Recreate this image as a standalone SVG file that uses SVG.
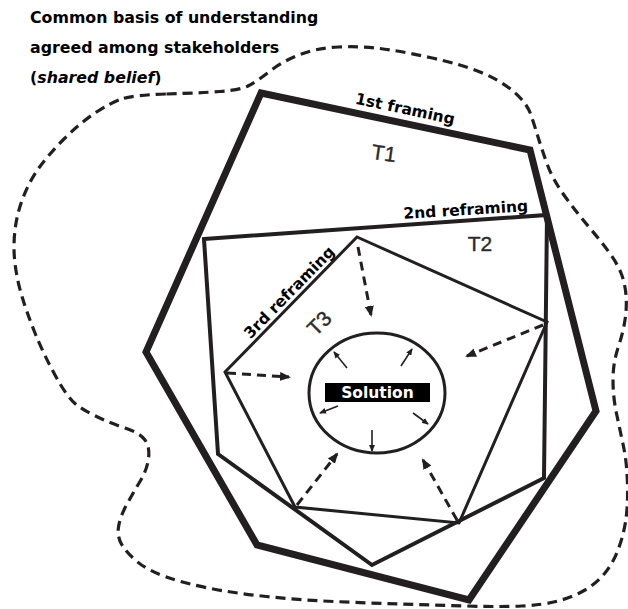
<svg xmlns="http://www.w3.org/2000/svg" width="628" height="609" viewBox="0 0 628 609">
<style>
.lbl{font-family:"DejaVu Sans",sans-serif;font-weight:bold;font-size:15.5px;fill:#000}
.top{font-size:15.8px}
.tl{font-family:"Liberation Sans",Arial,sans-serif;font-size:21px;fill:#2b2b2b;stroke:#2b2b2b;stroke-width:0.4}
.poly{fill:none;stroke:#231f20;stroke-linejoin:miter}
.darr{fill:none;stroke:#231f20;stroke-width:3;stroke-dasharray:9 6}
.sarr{fill:none;stroke:#231f20;stroke-width:1.6}
</style>
<defs>
<marker id="ah" markerUnits="userSpaceOnUse" viewBox="0 0 11 9" refX="9" refY="4.5" markerWidth="11" markerHeight="9" orient="auto"><path d="M0,0 L11,4.5 L0,9 z" fill="#231f20"/></marker>
<marker id="sh" markerUnits="userSpaceOnUse" viewBox="0 0 7 6" refX="6" refY="3" markerWidth="7" markerHeight="6" orient="auto"><path d="M0,0 L7,3 L0,6 z" fill="#231f20"/></marker>
</defs>
<rect width="628" height="609" fill="#fff"/>
<g id="shared-belief">
<path class="poly" stroke-width="3.2" stroke-dasharray="10 6" d="M166.5,94 Q200,93 220,91.5 Q240,90 248,86 Q256,82 269.5,71.5 Q283,61 300,54.5 Q317,48 338.5,47 Q360,46 380,48.5 Q400,51 430,57.5 Q460,64 480,72 Q500,80 513.5,91.5 Q527,103 531,115 Q535,127 538.5,138.5 Q542,150 547.5,165 Q553,180 565,196.5 Q577,213 588.5,226.5 Q600,240 608.5,251.5 Q617,263 621,273 Q625,283 626,295 Q627,307 625,320 Q623,333 618,348 Q613,363 613,380 Q613,397 616.5,413.5 Q620,430 623.5,446.5 Q627,463 627.5,485 Q628,507 625.5,522 Q623,537 618,550 Q613,563 605,573 Q597,583 585,590 Q573,597 558,601 Q543,605 521.5,606 Q500,607 466.5,606 Q433,605 400,604 Q367,603 333.5,601.5 Q300,600 266.5,596.5 Q233,593 208,588 Q183,583 165,576.5 Q147,570 137,561.5 Q127,553 122,545 Q117,537 118.5,527 Q120,517 126.5,505 Q133,493 140,481.5 Q147,470 148.5,458.5 Q150,447 145,440 Q140,433 125,428 Q110,423 96.5,416.5 Q83,410 75,403.5 Q67,397 55,375 Q43,353 35,333 Q27,313 22,296.5 Q17,280 15,263.5 Q13,247 15,230 Q17,213 23.5,196.5 Q30,180 40,166.5 Q50,153 65,138 Q80,123 95,113 Q110,103 121.5,99 Q133,95 166.5,94 Z"/>
<text class="lbl top" x="30" y="23">Common basis of understanding</text>
<text class="lbl top" x="30" y="53">agreed among stakeholders</text>
<text class="lbl top" x="30" y="83">(<tspan font-style="italic">shared belief</tspan>)</text>
</g>
<g id="T1">
<polygon class="poly" stroke-width="7" points="261,93 530,150 596,411 469,600 257,545 146,352"/>
<text class="lbl" x="404" y="114" text-anchor="middle" transform="rotate(12 404 114)">1st framing</text>
<text class="tl" text-anchor="middle" y="7.5" transform="translate(384,153) rotate(8)">T1</text>
</g>
<g id="T2">
<polygon class="poly" stroke-width="4" points="204,239 547,215 544,478 372,565 218,454"/>
<text class="lbl" x="466" y="215" text-anchor="middle" transform="rotate(-3.5 466 215)">2nd reframing</text>
<text class="tl" x="480" y="251" text-anchor="middle">T2</text>
</g>
<g id="T3">
<polygon class="poly" stroke-width="3" points="357,237 547,322 459,523 295,507 225,372"/>
<text class="lbl" x="293" y="296" text-anchor="middle" transform="rotate(-45.6 293 296)">3rd reframing</text>
<text class="tl" text-anchor="middle" y="7.5" transform="translate(319,323) rotate(-45)">T3</text>
</g>
<g id="solution">
<ellipse cx="377" cy="393" rx="68" ry="60" fill="none" stroke="#231f20" stroke-width="3"/>
<rect x="325" y="383" width="105" height="19" fill="#000"/>
<text class="lbl" x="377.5" y="398" text-anchor="middle" style="fill:#fff">Solution</text>
</g>
<g id="connectors">
<line class="darr" x1="358" y1="247" x2="371" y2="315" marker-end="url(#ah)"/>
<line class="darr" x1="543" y1="325" x2="467" y2="356" marker-end="url(#ah)"/>
<line class="darr" x1="227" y1="373" x2="289" y2="377" marker-end="url(#ah)"/>
<line class="darr" x1="297" y1="505" x2="337" y2="454" marker-end="url(#ah)"/>
<line class="darr" x1="457" y1="520" x2="423" y2="460" marker-end="url(#ah)"/>
<line class="sarr" x1="347" y1="368" x2="334" y2="352" marker-end="url(#sh)"/>
<line class="sarr" x1="401" y1="366" x2="412" y2="349" marker-end="url(#sh)"/>
<line class="sarr" x1="338" y1="406" x2="320" y2="413" marker-end="url(#sh)"/>
<line class="sarr" x1="413" y1="413" x2="428" y2="424" marker-end="url(#sh)"/>
<line class="sarr" x1="372" y1="430" x2="372" y2="451" marker-end="url(#sh)"/>
</g>
</svg>
